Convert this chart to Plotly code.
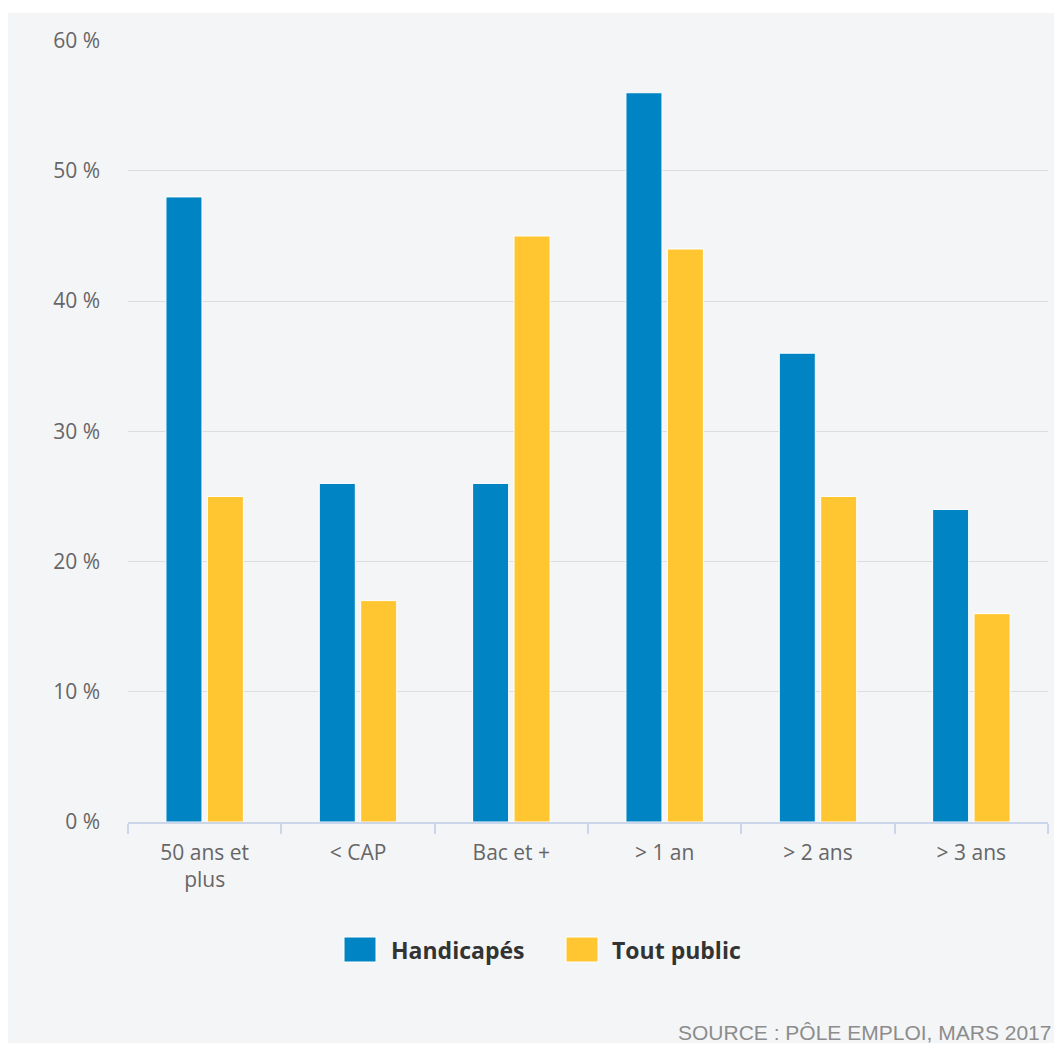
import plotly.graph_objects as go

categories = ["50 ans et<br>plus", "< CAP", "Bac et +", "> 1 an", "> 2 ans", "> 3 ans"]
series_names = ["Handicapés", "Tout public"]
handicapes = [48, 26, 26, 56, 36, 24]
tout_public = [25, 17, 45, 44, 25, 16]
y_ticks = [0, 10, 20, 30, 40, 50, 60]
source_text = "SOURCE : PÔLE EMPLOI, MARS 2017"

colors = ["#0084c4", "#ffc632"]
BG = "#f4f5f7"

fig = go.Figure()
for name, vals, col in zip(series_names, [handicapes, tout_public], colors):
    fig.add_trace(go.Bar(
        x=categories, y=vals, name=name,
        marker=dict(color=col, line=dict(color="#ffffff", width=1)),
        showlegend=False,
    ))

# plot area in div pixels: x 120..1040, y 32..814  (div offset 8px by body margin)
PW, PH = 920, 782
def px(X):
    return (X - 128) / PW
def py(Y):
    return (822 - Y) / PH

shapes = [
    # white strip at top of paper
    dict(type="rect", xref="paper", yref="paper", x0=-0.2, x1=1.2,
         y0=1 + 27 / PH, y1=1 + 40 / PH, fillcolor="#ffffff", line_width=0, layer="below"),
]
annotations = []
leg = [(344, 389), (566, 610)]
for (sx, tx), name, col in zip(leg, series_names, colors):
    shapes.append(dict(type="rect", xref="paper", yref="paper",
                       x0=px(sx), x1=px(sx + 32), y0=py(962), y1=py(937),
                       fillcolor=col, line=dict(color="#ffffff", width=1)))
    annotations.append(dict(xref="paper", yref="paper", x=px(tx), y=py(950),
                            xanchor="left", yanchor="middle", showarrow=False,
                            text="<b>" + name + "</b>",
                            font=dict(family="Open Sans", size=23, color="#333333")))
annotations.append(dict(xref="paper", yref="paper", x=px(1053), y=py(1032),
                        xanchor="right", yanchor="middle", showarrow=False,
                        text=source_text,
                        font=dict(family="Liberation Sans", size=21, color="#8c8c8c")))

fig.update_layout(
    width=1046, height=1035,
    margin=dict(l=120, r=6, t=32, b=221),
    paper_bgcolor=BG, plot_bgcolor=BG,
    barmode="group", bargap=0.46, bargroupgap=0.13,
    font=dict(family="Open Sans", size=21, color="#666666"),
    shapes=shapes, annotations=annotations,
    xaxis=dict(
        showline=True, linecolor="#ccd6eb", linewidth=1.5,
        ticks="outside", tickson="boundaries", ticklen=10, tickcolor="#ccd6eb", tickwidth=1.5,
        showgrid=False, ticklabelstandoff=11,
        tickfont=dict(family="Open Sans", size=21, color="#666666"),
    ),
    yaxis=dict(
        range=[0, 60.05], tickvals=y_ticks, ticktext=[f"{v} %" for v in y_ticks],
        showgrid=True, gridcolor="#dcdde0", gridwidth=1.3,
        zeroline=False, showline=False, ticks="", ticklabelstandoff=27,
        tickfont=dict(family="Open Sans", size=21, color="#666666"),
    ),
)

fig.write_html("out.html")
